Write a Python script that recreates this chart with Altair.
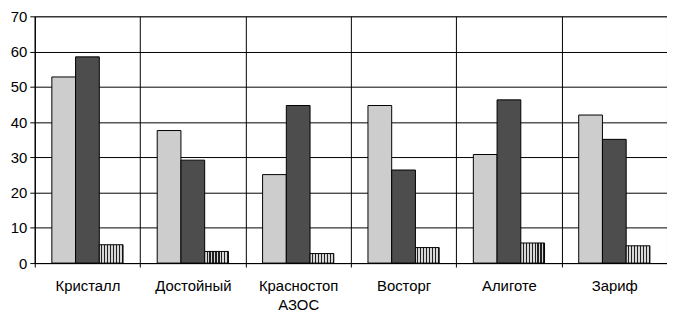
import altair as alt
import pandas as pd

categories = ["Кристалл", "Достойный", "Красностоп АЗОС", "Восторг", "Алиготе", "Зариф"]
series_names = ["Ряд 1", "Ряд 2", "Ряд 3"]
series1 = [52.8, 37.6, 25.1, 44.7, 30.8, 42.0]
series2 = [58.5, 29.2, 44.7, 26.4, 46.3, 35.1]
series3 = [5.2, 3.3, 2.7, 4.4, 5.7, 4.9]
y_ticks = [0, 10, 20, 30, 40, 50, 60, 70]

rows = []
for i, c in enumerate(categories):
    for s, vals in zip(series_names, [series1, series2, series3]):
        rows.append({"cat": c, "series": s, "value": vals[i]})
df = pd.DataFrame(rows)

FONT = "Liberation Sans"

def stripes(n, c1, c2, frac=0.6):
    stops = []
    for i in range(n):
        a = i / n
        b = (i + frac) / n
        e = (i + 1) / n
        stops += [
            alt.GradientStop(offset=a, color=c1),
            alt.GradientStop(offset=b, color=c1),
            alt.GradientStop(offset=b, color=c2),
            alt.GradientStop(offset=e, color=c2),
        ]
    return alt.Gradient(gradient="linear", stops=stops, x1=0, x2=1, y1=0, y2=0)

fills = {
    "Ряд 1": "#cdcdcd",
    "Ряд 2": "#4d4d4d",
    "Ряд 3": stripes(8, "#d8d8d8", "#202020", 0.62),
}

x_enc = alt.X(
    "cat:N",
    sort=categories,
    scale=alt.Scale(paddingInner=0, paddingOuter=0),
    axis=alt.Axis(
        title=None,
        labelAngle=0,
        tickBand="extent",
        grid=True,
        gridColor="black",
        gridOpacity=1,
        domainColor="black",
        tickColor="black",
        tickSize=4,
        labelFont=FONT,
        labelFontSize=15,
        labelColor="black",
        labelPadding=12,
        labelLineHeight=19,
        labelExpr="split(datum.label, ' ')",
    ),
)
xoff = alt.XOffset(
    "series:N",
    sort=series_names,
    scale=alt.Scale(domain=series_names, paddingInner=0, paddingOuter=0.72),
)
y_enc = alt.Y(
    "value:Q",
    scale=alt.Scale(domain=[0, 70], nice=False),
    axis=alt.Axis(
        title=None,
        values=y_ticks,
        grid=True,
        gridColor="black",
        gridOpacity=1,
        domainColor="black",
        tickColor="black",
        tickSize=5,
        labelFont=FONT,
        labelFontSize=15,
        labelColor="black",
        labelPadding=3,
    ),
)

base = alt.Chart(df)
layers = []
for s in series_names:
    layers.append(
        base.transform_filter(alt.datum.series == s)
        .mark_bar(fill=fills[s], stroke="black", strokeWidth=1)
        .encode(x=x_enc, xOffset=xoff, y=y_enc)
    )

chart = (
    alt.layer(*layers)
    .properties(
        width=638,
        height=249,
        autosize=alt.AutoSizeParams(type="none"),
        padding={"left": 27, "top": 7, "right": 0, "bottom": 52},
    )
    .configure_view(stroke="#888888", strokeWidth=1)
    .configure_axis(domainWidth=1, gridWidth=1)
)

chart.save("out.html", embed_options={"renderer": "svg", "actions": False})
